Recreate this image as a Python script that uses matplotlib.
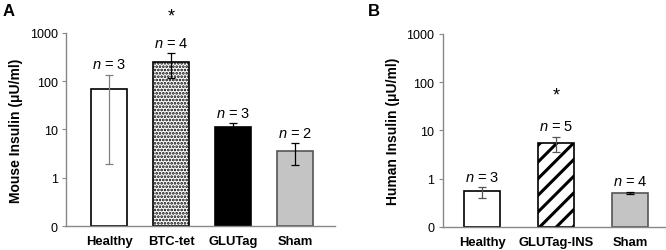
import matplotlib
matplotlib.use("Agg")
import matplotlib.pyplot as plt
import numpy as np

plt.rcParams['font.family'] = ['Liberation Sans', 'DejaVu Sans']
plt.rcParams['mathtext.fontset'] = 'custom'
plt.rcParams['mathtext.rm'] = 'Liberation Sans'
plt.rcParams['mathtext.it'] = 'Liberation Sans:italic'

# Panel A: mouse insulin
a_groups = ["Healthy", "BTC-tet", "GLUTag", "Sham"]
a_values = [70, 245, 11.4, 3.5]
a_err_low = [1.95, 115, 10.0, 1.8]
a_err_high = [135, 375, 13.3, 5.2]
a_n = [3, 4, 3, 2]
a_star = [False, True, False, False]

# Panel B: human insulin
b_groups = ["Healthy", "GLUTag-INS", "Sham"]
b_values = [0.545, 5.45, 0.51]
b_err_low = [0.40, 3.6, 0.48]
b_err_high = [0.66, 7.4, 0.535]
b_n = [3, 5, 4]
b_star = [False, True, False]

ticks = [0.1, 1, 10, 100, 1000]
tick_labels = ["0", "1", "10", "100", "1000"]

a_style = [dict(color="white", edgecolor="black", hatch=None),
           dict(color="white", edgecolor="black", hatch="....."),
           dict(color="black", edgecolor="black", hatch=None),
           dict(color="#c4c4c4", edgecolor="#555555", hatch=None)]
a_errcol = ["#808080", "black", "black", "black"]
b_style = [dict(color="white", edgecolor="black", hatch=None),
           dict(color="white", edgecolor="black", hatch="//"),
           dict(color="#c4c4c4", edgecolor="#555555", hatch=None)]
b_errcol = ["#555555", "#555555", "black"]

fig = plt.figure(figsize=(6.66, 2.51), dpi=100)


def draw_panel(ax, groups, values, lo, hi, ns, stars, styles, errcols,
               width, xlim, ylabel, star_off):
    x = np.arange(len(groups))
    for i in range(len(groups)):
        st = styles[i]
        plt.rcParams['hatch.linewidth'] = 2.2 if st['hatch'] == "//" else 1.3
        ax.bar(x[i], values[i] - 0.1, bottom=0.1, width=width,
               color=st['color'], edgecolor=st['edgecolor'],
               hatch=st['hatch'], linewidth=1.2, zorder=2)
        yerr = [[values[i] - lo[i]], [hi[i] - values[i]]]
        ax.errorbar(x[i], values[i], yerr=yerr, fmt='none',
                    ecolor=errcols[i], elinewidth=0.9, capsize=2.6,
                    capthick=0.9, zorder=3)
        ax.annotate("$n$ = %d" % ns[i], (x[i], hi[i]), xytext=(0, 2.5),
                    textcoords='offset points', ha='center', va='bottom',
                    fontsize=10.5, annotation_clip=False)
        if stars[i]:
            ax.annotate("*", (x[i], hi[i]), xytext=(0, star_off),
                        textcoords='offset points', ha='center',
                        va='center', fontsize=13, annotation_clip=False)
    ax.set_yscale('log')
    ax.set_ylim(0.1, 1000)
    ax.set_xlim(*xlim)
    ax.set_yticks(ticks)
    ax.set_yticklabels(tick_labels)
    ax.minorticks_off()
    ax.set_xticks(x)
    ax.set_xticklabels(groups, fontweight='bold', fontsize=9.4)
    ax.tick_params(axis='x', length=0, pad=6.5)
    ax.tick_params(axis='y', length=3, width=0.8, color='#888888',
                   labelsize=9, pad=3)
    for s in ['top', 'right']:
        ax.spines[s].set_visible(False)
    for s in ['left', 'bottom']:
        ax.spines[s].set_color('#888888')
        ax.spines[s].set_linewidth(1.0)
    ax.set_ylabel(ylabel, fontweight='bold', fontsize=10, labelpad=5)


ax1 = fig.add_axes([0.099, 0.0956, 0.404, 0.7694])
draw_panel(ax1, a_groups, a_values, a_err_low, a_err_high, a_n, a_star,
           a_style, a_errcol, 0.58, (-0.70, 3.64),
           "Mouse Insulin (\u03bcU/ml)", 27)

ax2 = fig.add_axes([0.665, 0.092, 0.3335, 0.769])
draw_panel(ax2, b_groups, b_values, b_err_low, b_err_high, b_n, b_star,
           b_style, b_errcol, 0.49, (-0.53, 2.47),
           "Human Insulin (\u03bcU/ml)", 30)

fig.text(0.004, 0.985, "A", fontweight='bold', fontsize=12, va='top')
fig.text(0.552, 0.985, "B", fontweight='bold', fontsize=12, va='top')

fig.savefig("out.png", dpi=100)
